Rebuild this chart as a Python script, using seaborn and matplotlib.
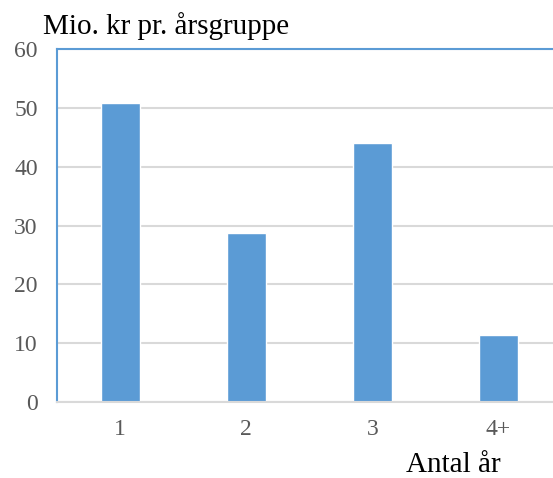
import matplotlib
matplotlib.use("Agg")
import matplotlib.pyplot as plt
import pandas as pd
import seaborn as sns

# data
years = ["1", "2", "3", "4+"]
amounts = [50.8, 28.7, 44.0, 11.4]
y_ticks = [0, 10, 20, 30, 40, 50, 60]

BAR_BLUE = "#5B9BD5"
GRID_GREY = "#D9D9D9"
LABEL_GREY = "#595959"

sns.set_style("white")
plt.rcParams["font.family"] = ["Liberation Serif", "DejaVu Serif"]

df = pd.DataFrame({"year": years, "amount": amounts})

fig = plt.figure(figsize=(5.53, 4.78), dpi=100)
# plot area runs past the right edge, as in the reference
ax = fig.add_axes([57.3 / 553, 1 - 402 / 478, 504 / 553, (402 - 49) / 478])

sns.barplot(data=df, x="year", y="amount", color=BAR_BLUE, saturation=1,
            width=0.31, ax=ax, zorder=3)

ax.set_xlim(-0.5, 3.5)
ax.set_ylim(0, 60)
ax.set_yticks(y_ticks)
ax.yaxis.grid(True, color=GRID_GREY, linewidth=1.5, zorder=0)
ax.set_axisbelow(True)

for side in ["left", "top"]:
    ax.spines[side].set_color(BAR_BLUE)
    ax.spines[side].set_linewidth(1.5)
ax.spines["right"].set_visible(False)
ax.spines["bottom"].set_color(GRID_GREY)
ax.spines["bottom"].set_linewidth(1.5)
ax.spines["bottom"].set_zorder(4)

ax.tick_params(axis="y", length=0, pad=14, labelsize=17, labelcolor=LABEL_GREY)
ax.tick_params(axis="x", length=0, pad=12, labelsize=17, labelcolor=LABEL_GREY)
ax.set_xlabel("")
ax.set_ylabel("")

fig.text(43 / 553, 1 - 33.7 / 478, "Mio. kr pr. årsgruppe", fontsize=21,
         color="black", ha="left", va="baseline")
fig.text(406 / 553, 1 - 472 / 478, "Antal år", fontsize=21,
         color="black", ha="left", va="baseline")

fig.savefig("out.png", dpi=100)
